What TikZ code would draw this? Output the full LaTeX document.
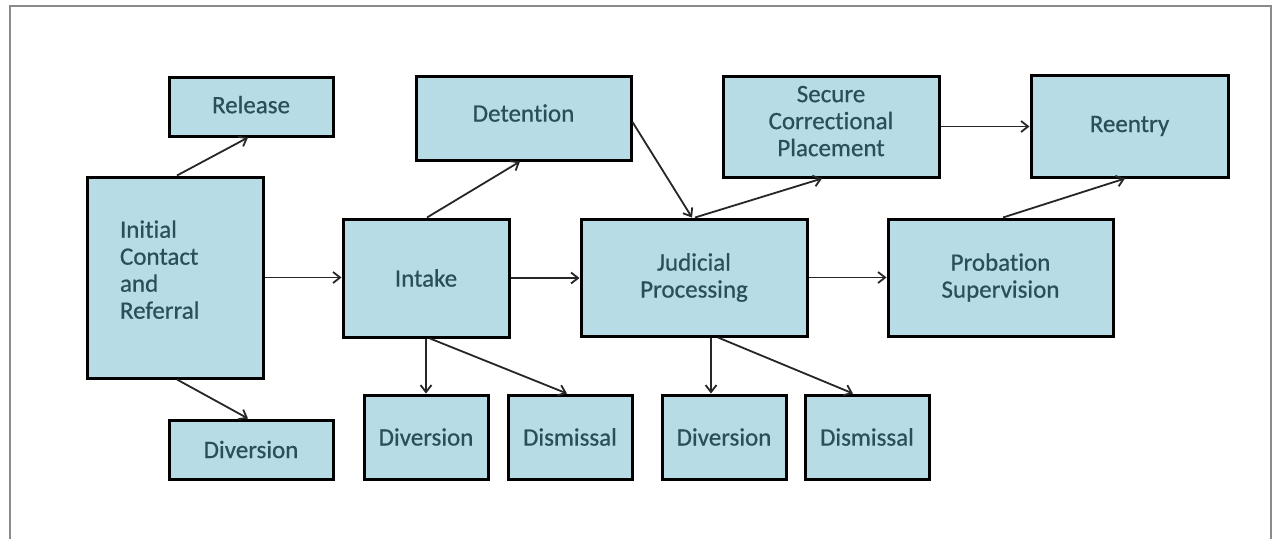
\documentclass[tikz,border=0pt]{standalone}
\usepackage{fontspec}
\setmainfont{Carlito}[Ligatures=NoCommon,FakeBold=0.6]
\usetikzlibrary{arrows.meta,calc}
\definecolor{boxfill}{HTML}{B7DCE6}
\definecolor{boxtext}{HTML}{2A4F5B}
\definecolor{linecol}{HTML}{262626}
\definecolor{framecol}{HTML}{8A8A8A}
\tikzset{
  box/.style={draw=black, line width=3pt, fill=boxfill, text=boxtext,
    font=\fontsize{25pt}{27pt}\selectfont, align=center, inner sep=0pt},
  conn/.style={draw=linecol, line width=1.8pt,
    -{Straight Barb[length=7pt,width=11pt,line width=1.8pt]}}
}
\begin{document}
\begin{tikzpicture}[x=1pt,y=-1pt]
\useasboundingbox (0,0) rectangle (1280,539);
\fill[white] (0,0) rectangle (1280,539);
\draw[framecol, line width=2pt] (10,539) -- (10,6) -- (1271,6) -- (1271,539);

\node[box, minimum width=164pt, minimum height=59pt, text depth=4pt] (release) at (251,106.5) {Release};
\node[box, minimum width=176pt, minimum height=201pt, text width=110pt, align=left, text depth=97pt] (init) at (175,277.5) {Initial\\Contact\\and\\Referral};
\node[box, minimum width=164pt, minimum height=59pt] (divL) at (251,449.5) {Diversion};
\node[box, minimum width=166pt, minimum height=118pt] (intake) at (426,278) {Intake};
\node[box, minimum width=215pt, minimum height=84pt, text depth=10pt] (detention) at (523.5,118) {Detention};
\node[box, minimum width=226pt, minimum height=117pt] (judicial) at (694,277.5) {Judicial\\Processing};
\node[box, minimum width=216pt, minimum height=101pt, text depth=11pt] (secure) at (831,126.5) {Secure\\Correctional\\Placement};
\node[box, minimum width=197pt, minimum height=102pt] (reentry) at (1129.5,126) {Reentry};
\node[box, minimum width=225pt, minimum height=117pt] (probation) at (1000.5,277.5) {Probation\\Supervision};
\node[box, minimum width=124pt, minimum height=84pt] (div1) at (426,437) {Diversion};
\node[box, minimum width=124pt, minimum height=84pt] (dis1) at (570,437) {Dismissal};
\node[box, minimum width=124pt, minimum height=84pt] (div2) at (724,437) {Diversion};
\node[box, minimum width=124pt, minimum height=84pt] (dis2) at (867,437) {Dismissal};

\draw[conn] ([xshift=2pt]init.north) -- ([xshift=-3pt]release.south);
\draw[conn] ([xshift=2pt]init.south) -- ([xshift=-3pt]divL.north);
\draw[conn] (init.east) -- (init.east -| intake.west);
\draw[conn] ([xshift=1pt]intake.north) -- ([xshift=-3.5pt]detention.south);
\draw[conn] (intake.east) -- (intake.east -| judicial.west);
\draw[conn] (intake.south) -- (div1.north);
\draw[conn] ([xshift=4pt]intake.south) -- ([xshift=-3pt]dis1.north);
\draw[conn] ([yshift=-4pt]detention.east) -- ([xshift=-2pt]judicial.north);
\draw[conn] ([xshift=1pt]judicial.north) -- ([xshift=-9pt]secure.south);
\draw[conn] (judicial.east) -- (judicial.east -| probation.west);
\draw[conn] ([xshift=17pt]judicial.south) -- ([xshift=-13pt]div2.north);
\draw[conn] ([xshift=24pt]judicial.south) -- ([xshift=-14pt]dis2.north);
\draw[conn] (secure.east) -- (secure.east -| reentry.west);
\draw[conn] ([xshift=2.5pt]probation.north) -- ([xshift=-4.5pt]reentry.south);
\end{tikzpicture}
\end{document}
